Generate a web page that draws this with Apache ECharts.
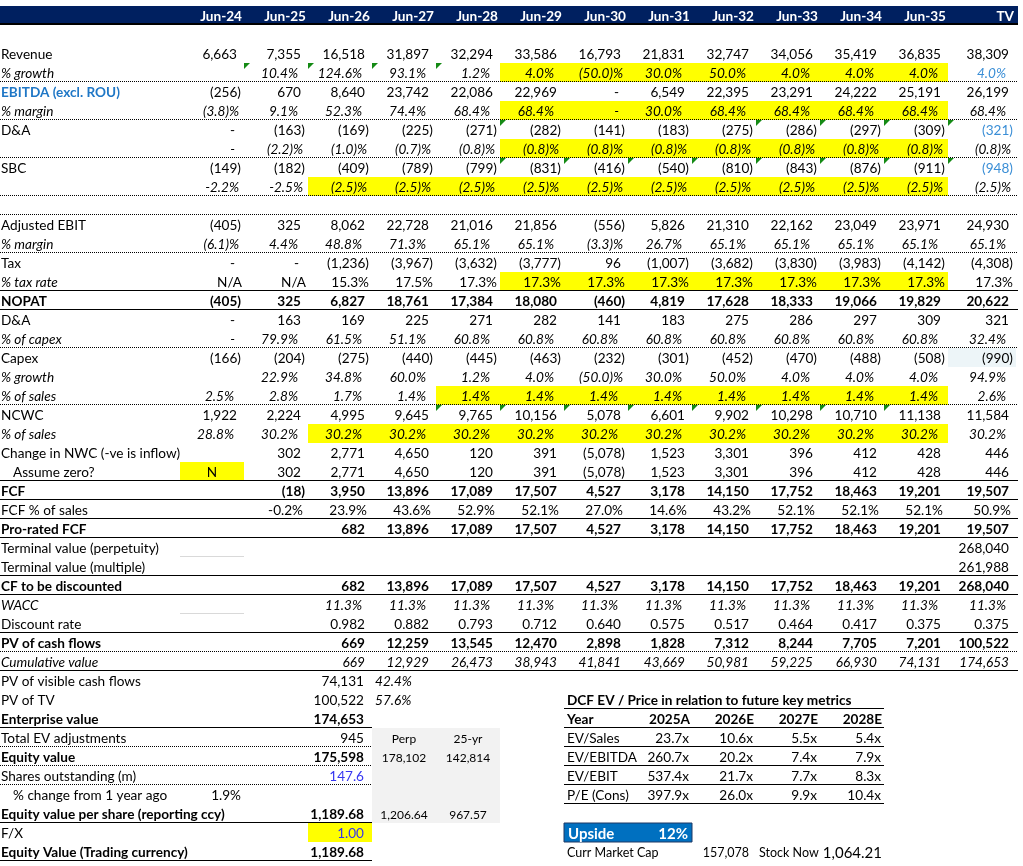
<!DOCTYPE html>
<html>
<head>
<meta charset="utf-8">
<script src="https://cdn.jsdelivr.net/npm/echarts@6/dist/echarts.min.js"></script>
<style>
  html, body { margin: 0; padding: 0; background: #fff; }
  #main { width: 1023px; height: 866px; }
</style>
</head>
<body>
<div id="main"></div>
<script>
// DCF sheet drawn as cells of a custom series on a hidden value grid
// x unit = one period column, y unit = one sheet row

const periods = ['Jun-24', 'Jun-25', 'Jun-26', 'Jun-27', 'Jun-28', 'Jun-29', 'Jun-30', 'Jun-31', 'Jun-32', 'Jun-33', 'Jun-34', 'Jun-35', 'TV'];

const revenue = [6663, 7355, 16518, 31897, 32294, 33586, 16793, 21831, 32747, 34056, 35419, 36835, 38309];
const revenueGrowth = [null, 10.4, 124.6, 93.1, 1.2, 4.0, -50.0, 30.0, 50.0, 4.0, 4.0, 4.0, 4.0];
const ebitda = [-256, 670, 8640, 23742, 22086, 22969, 0, 6549, 22395, 23291, 24222, 25191, 26199];
const ebitdaMargin = [-3.8, 9.1, 52.3, 74.4, 68.4, 68.4, 0, 30.0, 68.4, 68.4, 68.4, 68.4, 68.4];
const daCost = [0, -163, -169, -225, -271, -282, -141, -183, -275, -286, -297, -309, -321];
const daPctSales = [0, -2.2, -1.0, -0.7, -0.8, -0.8, -0.8, -0.8, -0.8, -0.8, -0.8, -0.8, -0.8];
const sbc = [-149, -182, -409, -789, -799, -831, -416, -540, -810, -843, -876, -911, -948];
const sbcPctSales = [-2.2, -2.5, -2.5, -2.5, -2.5, -2.5, -2.5, -2.5, -2.5, -2.5, -2.5, -2.5, -2.5];
const adjEbit = [-405, 325, 8062, 22728, 21016, 21856, -556, 5826, 21310, 22162, 23049, 23971, 24930];
const ebitMargin = [-6.1, 4.4, 48.8, 71.3, 65.1, 65.1, -3.3, 26.7, 65.1, 65.1, 65.1, 65.1, 65.1];
const tax = [0, 0, -1236, -3967, -3632, -3777, 96, -1007, -3682, -3830, -3983, -4142, -4308];
const taxRate = ['N/A', 'N/A', 15.3, 17.5, 17.3, 17.3, 17.3, 17.3, 17.3, 17.3, 17.3, 17.3, 17.3];
const nopat = [-405, 325, 6827, 18761, 17384, 18080, -460, 4819, 17628, 18333, 19066, 19829, 20622];
const daAddBack = [0, 163, 169, 225, 271, 282, 141, 183, 275, 286, 297, 309, 321];
const daPctCapex = [0, 79.9, 61.5, 51.1, 60.8, 60.8, 60.8, 60.8, 60.8, 60.8, 60.8, 60.8, 32.4];
const capex = [-166, -204, -275, -440, -445, -463, -232, -301, -452, -470, -488, -508, -990];
const capexGrowth = [null, 22.9, 34.8, 60.0, 1.2, 4.0, -50.0, 30.0, 50.0, 4.0, 4.0, 4.0, 94.9];
const capexPctSales = [2.5, 2.8, 1.7, 1.4, 1.4, 1.4, 1.4, 1.4, 1.4, 1.4, 1.4, 1.4, 2.6];
const ncwc = [1922, 2224, 4995, 9645, 9765, 10156, 5078, 6601, 9902, 10298, 10710, 11138, 11584];
const ncwcPctSales = [28.8, 30.2, 30.2, 30.2, 30.2, 30.2, 30.2, 30.2, 30.2, 30.2, 30.2, 30.2, 30.2];
const changeNwc = [null, 302, 2771, 4650, 120, 391, -5078, 1523, 3301, 396, 412, 428, 446];
const assumeZero = 'N';
const changeNwcUsed = [null, 302, 2771, 4650, 120, 391, -5078, 1523, 3301, 396, 412, 428, 446];
const fcf = [null, -18, 3950, 13896, 17089, 17507, 4527, 3178, 14150, 17752, 18463, 19201, 19507];
const fcfPctSales = [null, -0.2, 23.9, 43.6, 52.9, 52.1, 27.0, 14.6, 43.2, 52.1, 52.1, 52.1, 50.9];
const proRatedFcf = [null, null, 682, 13896, 17089, 17507, 4527, 3178, 14150, 17752, 18463, 19201, 19507];
const tvPerpetuity = [null, null, null, null, null, null, null, null, null, null, null, null, 268040];
const tvMultiple = [null, null, null, null, null, null, null, null, null, null, null, null, 261988];
const cfDiscounted = [null, null, 682, 13896, 17089, 17507, 4527, 3178, 14150, 17752, 18463, 19201, 268040];
const wacc = [null, null, 11.3, 11.3, 11.3, 11.3, 11.3, 11.3, 11.3, 11.3, 11.3, 11.3, 11.3];
const discountFactor = [null, null, 0.982, 0.882, 0.793, 0.712, 0.640, 0.575, 0.517, 0.464, 0.417, 0.375, 0.375];
const pvCashFlows = [null, null, 669, 12259, 13545, 12470, 2898, 1828, 7312, 8244, 7705, 7201, 100522];
const cumulativeValue = [null, null, 669, 12929, 26473, 38943, 41841, 43669, 50981, 59225, 66930, 74131, 174653];

const summaryLabels = ['PV of visible cash flows', 'PV of TV', 'Enterprise value', 'Total EV adjustments', 'Equity value',
  'Shares outstanding (m)', '% change from 1 year ago', 'Equity value per share (reporting ccy)', 'F/X', 'Equity Value (Trading currency)'];
const summaryValues = [74131, 100522, 174653, 945, 175598, 147.6, null, 1189.68, 1.00, 1189.68];
const pvShares = [42.4, 57.6];
const shareChange = 1.9;
const scenarioNames = ['Perp', '25-yr'];
const scenarioEquity = [178102, 142814];
const scenarioPerShare = [1206.64, 967.57];

const multiplesTitle = 'DCF EV / Price in relation to future key metrics';
const multipleYears = ['2025A', '2026E', '2027E', '2028E'];
const multipleNames = ['EV/Sales', 'EV/EBITDA', 'EV/EBIT', 'P/E (Cons)'];
const evSales = [23.7, 10.6, 5.5, 5.4];
const evEbitda = [260.7, 20.2, 7.4, 7.9];
const evEbit = [537.4, 21.7, 7.7, 8.3];
const peCons = [397.9, 26.0, 9.9, 10.4];
const upsidePct = 12;
const currMarketCap = 157078;
const stockNow = 1064.21;

// ---- layout / styles ----
const FONT = 'Lato';
const FS = 13.6;
const X_MIN = -180 / 64;          // label column
const X_END = (1018 - 180) / 64;  // right edge of rules
const TV_RIGHT = 12 + 68 / 64;
const N_ROWS = 45;
const YELLOW = '#ffff00';
const TV_BLUE = '#3a8ed6';
const INPUT_BLUE = '#3636f0';

const colL = c => c;
const colR = c => (c === 12 ? TV_RIGHT : c + 1);

function thou(v, d) {
  return Math.abs(v).toLocaleString('en-US', { minimumFractionDigits: d, maximumFractionDigits: d });
}
function fmtCell(v, fmt) {
  if (v === null || v === undefined) return null;
  if (typeof v === 'string') return { s: v, pad: 2 };
  if (fmt === 'acct') {
    if (v === 0) return { s: '-', pad: 9 };
    return v < 0 ? { s: '(' + thou(v, 0) + ')', pad: 3 } : { s: thou(v, 0), pad: 7 };
  }
  if (fmt === 'pct') {
    if (v === 0) return { s: '-', pad: 9 };
    return v < 0 ? { s: '(' + Math.abs(v).toFixed(1) + ')%', pad: 5 } : { s: v.toFixed(1) + '%', pad: 10 };
  }
  if (fmt === 'pctm') return { s: v.toFixed(1) + '%', pad: 5 };
  if (fmt === 'plain') return { s: v.toFixed(1) + '%', pad: 3 };
  if (fmt === 'dec3') return { s: v.toFixed(3), pad: 7 };
  return { s: String(v), pad: 3 };
}

const rowSpecs = [
  { r: 2, label: 'Revenue', values: revenue, fmt: 'acct' },
  { r: 3, label: '% growth', values: revenueGrowth, fmt: 'pct', italic: true, tvColor: TV_BLUE },
  { r: 4, label: 'EBITDA (excl. ROU)', values: ebitda, fmt: 'acct', labelBold: true, labelColor: '#1f77c6' },
  { r: 5, label: '% margin', values: ebitdaMargin, fmt: 'pct', italic: true },
  { r: 6, label: 'D&A', values: daCost, fmt: 'acct', tvColor: TV_BLUE },
  { r: 7, label: '', values: daPctSales, fmt: 'pct', italic: true },
  { r: 8, label: 'SBC', values: sbc, fmt: 'acct', tvColor: TV_BLUE },
  { r: 9, label: '', values: sbcPctSales, fmt: 'pct', italic: true, fmtAt: { 0: 'pctm', 1: 'pctm' } },
  { r: 11, label: 'Adjusted EBIT', values: adjEbit, fmt: 'acct' },
  { r: 12, label: '% margin', values: ebitMargin, fmt: 'pct', italic: true },
  { r: 13, label: 'Tax', values: tax, fmt: 'acct' },
  { r: 14, label: '% tax rate', values: taxRate, fmt: 'plain', labelItalic: true },
  { r: 15, label: 'NOPAT', values: nopat, fmt: 'acct', bold: true },
  { r: 16, label: 'D&A', values: daAddBack, fmt: 'acct' },
  { r: 17, label: '% of capex', values: daPctCapex, fmt: 'pct', italic: true },
  { r: 18, label: 'Capex', values: capex, fmt: 'acct' },
  { r: 19, label: '% growth', values: capexGrowth, fmt: 'pct', italic: true },
  { r: 20, label: '% of sales', values: capexPctSales, fmt: 'pct', italic: true },
  { r: 21, label: 'NCWC', values: ncwc, fmt: 'acct' },
  { r: 22, label: '% of sales', values: ncwcPctSales, fmt: 'pct', italic: true },
  { r: 23, label: 'Change in NWC (-ve is inflow)', values: changeNwc, fmt: 'acct' },
  { r: 24, label: 'Assume zero?', values: changeNwcUsed, fmt: 'acct', indent: true },
  { r: 25, label: 'FCF', values: fcf, fmt: 'acct', bold: true },
  { r: 26, label: 'FCF % of sales', values: fcfPctSales, fmt: 'pctm' },
  { r: 27, label: 'Pro-rated FCF', values: proRatedFcf, fmt: 'acct', bold: true },
  { r: 28, label: 'Terminal value (perpetuity)', values: tvPerpetuity, fmt: 'acct' },
  { r: 29, label: 'Terminal value (multiple)', values: tvMultiple, fmt: 'acct' },
  { r: 30, label: 'CF to be discounted', values: cfDiscounted, fmt: 'acct', bold: true },
  { r: 31, label: 'WACC', values: wacc, fmt: 'pct', italic: true },
  { r: 32, label: 'Discount rate', values: discountFactor, fmt: 'dec3' },
  { r: 33, label: 'PV of cash flows', values: pvCashFlows, fmt: 'acct', bold: true },
  { r: 34, label: 'Cumulative value', values: cumulativeValue, fmt: 'acct', italic: true }
];

const yellowCells = [[3, 5, 11], [5, 5, 11], [7, 5, 11], [9, 2, 11], [14, 5, 11], [20, 4, 11], [22, 2, 11], [24, 0, 0], [43, 2, 2]];
const dottedFull = [3, 5, 7, 9, 10, 12, 17, 20, 33];
const solidFull = [14, 15, 24, 25, 26, 27, 29, 30, 32, 34];
const flagCells = [[3, [1, 2, 3, 4]], [6, [5, 9, 10, 11, 12]], [8, [5, 6, 7, 8, 9, 10, 11, 12]], [21, [4, 5, 6, 7, 8, 9, 10, 11]]];

// ---- build cell items ----
const items = [];
function addRect(x0, x1, r0, r1, color, stroke) {
  items.push({ kind: 'rect', x0, x1, r0, r1, color, stroke });
}
function addRule(x0, x1, r, dotted, color) {
  items.push({ kind: 'line', x0, x1, r0: r, r1: r + 1, dotted, color: color || '#000' });
}
function addText(x0, x1, r, str, o) {
  items.push(Object.assign({ kind: 'text', x0, x1, r0: r, r1: r + 1, str, align: 'right', pad: 0, size: FS, color: '#000' }, o));
}

// header band
addRect(X_MIN, X_END, 0, 1, '#002060');
items.push({ kind: 'bar', x0: X_MIN, x1: X_END, r0: 0, r1: 1, color: '#000' });

// fills
yellowCells.forEach(([r, c0, c1]) => addRect(colL(c0), colR(c1), r, r + 1, YELLOW));
addRect(12, TV_RIGHT, 18, 19, '#edf5f8');
addRect(3, 5, 38, 43, '#f2f2f2');
addRect(6, 8, 43, 44, '#0070c0', '#1f3864');

// rules
dottedFull.forEach(r => addRule(X_MIN, X_END, r, true));
solidFull.forEach(r => addRule(X_MIN, X_END, r, false));
[37, 42, 44].forEach(r => addRule(X_MIN, 3, r, false));
[38, 39, 40].forEach(r => addRule(X_MIN, 3, r, true));
[36, 37, 38, 39, 40, 41].forEach(r => addRule(6, 11, r, false));
[28, 31].forEach(r => addRule(0, 1, r, false, '#d9d9d9'));

// green flags
flagCells.forEach(([r, cols]) => cols.forEach(c => items.push({ kind: 'flag', x0: colL(c), x1: colL(c), r0: r, r1: r })));

// header labels
periods.forEach((p, c) => addText(colL(c), colR(c), 0, p, { pad: 2, bold: true, color: '#fff' }));

// model rows
rowSpecs.forEach(s => {
  if (s.label) {
    addText(X_MIN, 0, s.r, s.label, {
      align: 'left', pad: s.indent ? 13 : 1,
      bold: s.bold || s.labelBold, italic: s.italic || s.labelItalic, color: s.labelColor || '#000'
    });
  }
  s.values.forEach((v, c) => {
    const f = fmtCell(v, (s.fmtAt && s.fmtAt[c]) || s.fmt);
    if (!f) return;
    addText(colL(c), colR(c), s.r, f.s, {
      pad: f.pad, bold: s.bold, italic: s.italic,
      color: s.tvColor && c === 12 ? s.tvColor : '#000'
    });
  });
});
addText(colL(0), colR(0), 24, assumeZero, { align: 'center' });

// valuation summary
const summaryBold = [2, 4, 7, 9];
const summaryDec = [0, 0, 0, 0, 0, 1, 0, 2, 2, 2];
summaryLabels.forEach((lab, i) => {
  const r = 35 + i;
  const bold = summaryBold.indexOf(i) >= 0;
  addText(X_MIN, 0, r, lab, { align: 'left', pad: i === 6 ? 13 : 1, bold });
  const v = summaryValues[i];
  if (v !== null) {
    addText(2, 3, r, thou(v, summaryDec[i]), { pad: 8, bold, color: (i === 5 || i === 8) ? INPUT_BLUE : '#000' });
  }
});
pvShares.forEach((v, i) => addText(3, 4, 35 + i, v.toFixed(1) + '%', { align: 'left', pad: 3, italic: true }));
addText(0, 1, 41, shareChange.toFixed(1) + '%', { pad: 3 });
scenarioNames.forEach((n, i) => {
  addText(3 + i, 4 + i, 38, n, { align: 'center', size: 12 });
  addText(3 + i, 4 + i, 39, thou(scenarioEquity[i], 0), { align: 'center', size: 12 });
  addText(3 + i, 4 + i, 42, thou(scenarioPerShare[i], 2), { align: 'center', size: 12 });
});

// multiples table
addText(6, 11, 36, multiplesTitle, { align: 'left', pad: 3, bold: true, size: 13.6 });
addText(6, 7, 37, 'Year', { align: 'left', pad: 3, bold: true });
multipleYears.forEach((y, i) => addText(7 + i, 8 + i, 37, y, { pad: 2, bold: true }));
[evSales, evEbitda, evEbit, peCons].forEach((arr, k) => {
  addText(6, 7, 38 + k, multipleNames[k], { align: 'left', pad: 3 });
  arr.forEach((v, i) => addText(7 + i, 8 + i, 38 + k, v.toFixed(1) + 'x', { pad: 3 }));
});
addText(6, 8, 43, 'Upside', { align: 'left', pad: 4, bold: true, size: 15, color: '#fff' });
addText(6, 8, 43, upsidePct + '%', { pad: 4, bold: true, size: 15, color: '#fff' });
addText(6, 7, 44, 'Curr Market Cap', { align: 'left', pad: 3, size: 12.5 });
addText(8, 9, 44, thou(currMarketCap, 0), { pad: 7, size: 12.5 });
addText(9, 10, 44, 'Stock Now', { align: 'left', pad: 3, size: 12.5 });
addText(10, 11, 44, thou(stockNow, 2), { pad: 2, size: 15 });

// ---- render ----
function renderItem(params, api) {
  const it = items[params.dataIndex];
  const a = api.coord([it.x0, it.r0]);
  const b = api.coord([it.x1, it.r1]);
  if (it.kind === 'rect') {
    return {
      type: 'rect',
      shape: { x: a[0], y: a[1], width: b[0] - a[0], height: b[1] - a[1] },
      style: { fill: it.color, stroke: it.stroke || null, lineWidth: it.stroke ? 1 : 0 }
    };
  }
  if (it.kind === 'bar') {
    return { type: 'rect', shape: { x: a[0], y: b[1] - 2, width: b[0] - a[0], height: 2 }, style: { fill: it.color } };
  }
  if (it.kind === 'line') {
    const y = Math.round(b[1]) - 0.5;
    return {
      type: 'line',
      shape: { x1: a[0], y1: y, x2: b[0], y2: y },
      style: { stroke: it.color, lineWidth: 1, lineDash: it.dotted ? [1, 1] : null }
    };
  }
  if (it.kind === 'flag') {
    return {
      type: 'polygon',
      shape: { points: [[a[0], a[1]], [a[0] + 6, a[1]], [a[0], a[1] + 6]] },
      style: { fill: '#148a14' }
    };
  }
  let x;
  if (it.align === 'left') x = a[0] + it.pad;
  else if (it.align === 'center') x = (a[0] + b[0]) / 2;
  else x = b[0] - it.pad;
  return {
    type: 'text',
    style: {
      text: it.str, x: x, y: (a[1] + b[1]) / 2 + 1.2,
      align: it.align, verticalAlign: 'middle',
      fill: it.color, fontFamily: FONT, fontSize: it.size,
      fontWeight: it.bold ? 'bold' : 'normal', fontStyle: it.italic ? 'italic' : 'normal'
    }
  };
}

const chart = echarts.init(document.getElementById('main'));
chart.setOption({
  animation: false,
  grid: { left: 0, top: 6, width: 1020, height: 19 * N_ROWS },
  xAxis: { type: 'value', min: X_MIN, max: 15.9375 + X_MIN, show: false },
  yAxis: { type: 'value', min: 0, max: N_ROWS, inverse: true, show: false },
  series: [{
    type: 'custom',
    silent: true,
    clip: false,
    renderItem: renderItem,
    data: items.map((it, i) => [it.x0, it.r0, i])
  }]
});
</script>
</body>
</html>
